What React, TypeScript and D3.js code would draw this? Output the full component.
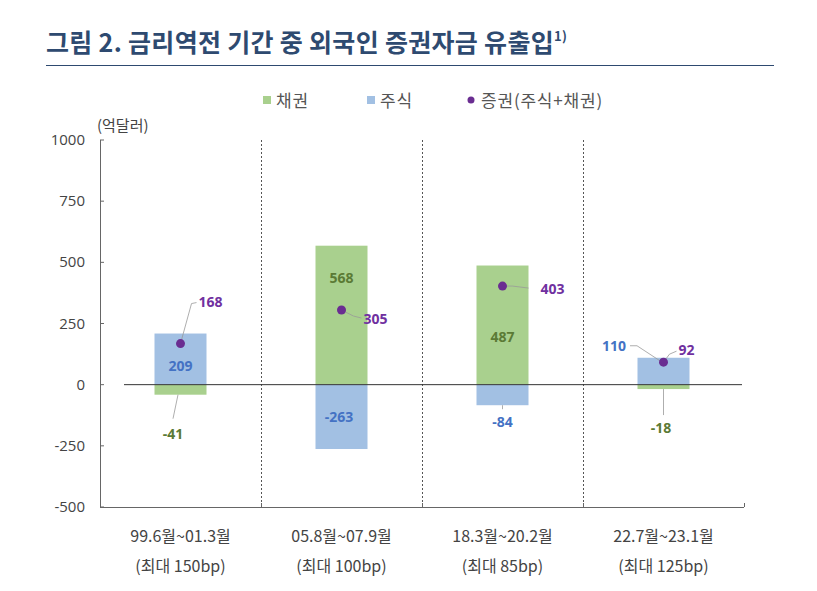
import React from "react";
import * as d3 from "d3";

const categories = ["99.6월~01.3월", "05.8월~07.9월", "18.3월~20.2월", "22.7월~23.1월"];
const subLabels = ["(최대 150bp)", "(최대 100bp)", "(최대 85bp)", "(최대 125bp)"];
const bonds = [-41, 568, 487, -18];
const stocks = [209, -263, -84, 110];
const totals = [168, 305, 403, 92];
const yTicks = [1000, 750, 500, 250, 0, -250, -500];

const W = 817, H = 591;
const GREEN = "#a9d08e", BLUE = "#a2c0e3", PURPLE = "#6a2d91";
const GREEN_T = "#5b7a35", BLUE_T = "#4472c4", PURPLE_T = "#7030a0";
const FONT = "'Noto Sans CJK KR', 'Noto Sans', sans-serif";

// label layout offsets (px) relative to anchors
const totalLabelOff = [[18, -42], [22, 9], [38, 3], [15, -12]];
const totalLeader = [[[0, 0], [11, -40], [16, -41]], [[0, 0], [12, 6], [20, 8]], [[0, 0], [10, 0], [26, 2]], [[0, 0], [6, -8], [13, -11]]];

export default function App() {
  const x = d3.scaleBand<string>().domain(categories).range([100, 744]).paddingInner(0).paddingOuter(0);
  const y = d3.scaleLinear().domain([-500, 1000]).range([507, 140]);
  const bw = 52;
  const y0 = y(0);

  const bar = (v: number) => ({ y: Math.min(y(v), y0), h: Math.abs(y(v) - y0) });
  const c3 = x(categories[3])!;

  return (
    <svg width={W} height={H} style={{ display: "block", position: "absolute", left: 0, top: 0 }} fontFamily={FONT}>
      <rect width={W} height={H} fill="#fff" />
      <text x={46} y={52} fontSize={25} fontWeight={700} fill="#2e4a70" letterSpacing={0.3}>
        그림 2. 금리역전 기간 중 외국인 증권자금 유출입
        <tspan fontSize={13} dy={-11}>1)</tspan>
      </text>
      <line x1={46} x2={774} y1={65.5} y2={65.5} stroke="#2e4a70" strokeWidth={1.2} />

      {/* legend */}
      <g fontSize={17} fill="#555" letterSpacing={0.8}>
        <rect x={263} y={96} width={8} height={8} fill={GREEN} />
        <text x={276} y={107}>채권</text>
        <rect x={367} y={96} width={8} height={8} fill={BLUE} />
        <text x={380} y={107}>주식</text>
        <circle cx={471} cy={100} r={3.5} fill={PURPLE} />
        <text x={481} y={107}>증권(주식+채권)</text>
      </g>

      <text x={97} y={131} fontSize={15} fill="#444">(억달러)</text>

      {/* y axis */}
      <line x1={100.5} x2={100.5} y1={y(1000)} y2={y(-500)} stroke="#666" />
      {yTicks.map((t) => (
        <g key={t}>
          <line x1={100} x2={104} y1={y(t)} y2={y(t)} stroke="#666" />
          <text x={85} y={y(t) + 5} textAnchor="end" fontSize={15} fill="#444" fontFamily="'Open Sans', sans-serif">{t}</text>
        </g>
      ))}

      {/* separators */}
      {categories.slice(1).map((c) => (
        <line key={c} x1={x(c)! + 0.5} x2={x(c)! + 0.5} y1={y(1000)} y2={y(-500)} stroke="#555" strokeDasharray="2,2" />
      ))}

      {/* bars */}
      {categories.map((c, i) => {
        const cx = x(c)! + x.bandwidth() / 2;
        const b = bar(bonds[i]);
        const s = bar(stocks[i]);
        return (
          <g key={c}>
            <rect x={cx - bw / 2} y={b.y} width={bw} height={b.h} fill={GREEN} />
            <rect x={cx - bw / 2} y={s.y} width={bw} height={s.h} fill={BLUE} />
          </g>
        );
      })}

      {/* zero line */}
      <line x1={124} x2={742} y1={y0} y2={y0} stroke="#333" />

      {/* bottom axis */}
      <line x1={100} x2={744} y1={507.5} y2={507.5} stroke="#666" />
      {categories.map((c) => (
        <line key={c} x1={x(c)! + x.bandwidth() + 0.5} x2={x(c)! + x.bandwidth() + 0.5} y1={503} y2={507} stroke="#666" />
      ))}
      {categories.map((c, i) => {
        const cx = x(c)! + x.bandwidth() / 2;
        return (
          <g key={c} fontSize={16} fill="#444" textAnchor="middle">
            <text x={cx} y={542}>{c}</text>
            <text x={cx} y={572}>{subLabels[i]}</text>
          </g>
        );
      })}

      {/* cat 4 stock leader (drawn under the dot) */}
      <path d={d3.line()([[c3 + 47, y(stocks[3]) - 12], [c3 + 54, y(stocks[3]) - 12], [c3 + 79, y(totals[3])]])!} fill="none" stroke="#999" strokeWidth={0.8} />

      {/* leader lines and labels */}
      {categories.map((c, i) => {
        const cx = x(c)! + x.bandwidth() / 2;
        const ty = y(totals[i]);
        const pts = totalLeader[i].map(([dx, dy]) => [cx + dx, ty + dy] as [number, number]);
        return (
          <g key={c}>
            <path d={d3.line()(pts)!} fill="none" stroke="#999" strokeWidth={0.8} />
            <circle cx={cx} cy={ty} r={4.5} fill={PURPLE} />
            <text x={cx + totalLabelOff[i][0]} y={ty + totalLabelOff[i][1] + 5} fontSize={14} fontWeight={700} fill={PURPLE_T} fontFamily="'Open Sans', sans-serif">{totals[i]}</text>
          </g>
        );
      })}

      <g fontSize={14} fontWeight={700} textAnchor="middle" fontFamily="'Open Sans', sans-serif">
        {/* cat 1 */}
        <text x={x(categories[0])! + 80.5} y={(y(stocks[0]) + y0) / 2 + 12} fill={BLUE_T}>{stocks[0]}</text>
        <line x1={x(categories[0])! + 78} x2={x(categories[0])! + 73} y1={y(bonds[0])} y2={y(bonds[0]) + 24} stroke="#999" strokeWidth={0.8} />
        <text x={x(categories[0])! + 73} y={y(bonds[0]) + 44} fill={GREEN_T}>{bonds[0]}</text>
        {/* cat 2 */}
        <text x={x(categories[1])! + 80.5} y={y(bonds[1]) + 37} fill={GREEN_T}>{bonds[1]}</text>
        <text x={x(categories[1])! + 78} y={(y(stocks[1]) + y0) / 2 + 5} fill={BLUE_T}>{stocks[1]}</text>
        {/* cat 3 */}
        <text x={x(categories[2])! + 80.5} y={(y(bonds[2]) + y0) / 2 + 17} fill={GREEN_T}>{bonds[2]}</text>
        <line x1={x(categories[2])! + 80.5} x2={x(categories[2])! + 80.5} y1={y(stocks[2])} y2={y(stocks[2]) + 4} stroke="#999" strokeWidth={0.8} />
        <text x={x(categories[2])! + 80.5} y={y(stocks[2]) + 22} fill={BLUE_T}>{stocks[2]}</text>
        {/* cat 4 */}
        <text x={c3 + 31} y={y(stocks[3]) - 7} fill={BLUE_T}>{stocks[3]}</text>
        <line x1={c3 + 80.5} x2={c3 + 80.5} y1={y(bonds[3])} y2={y(bonds[3]) + 26} stroke="#999" strokeWidth={0.8} />
        <text x={c3 + 78} y={y(bonds[3]) + 44} fill={GREEN_T}>{bonds[3]}</text>
      </g>
    </svg>
  );
}
